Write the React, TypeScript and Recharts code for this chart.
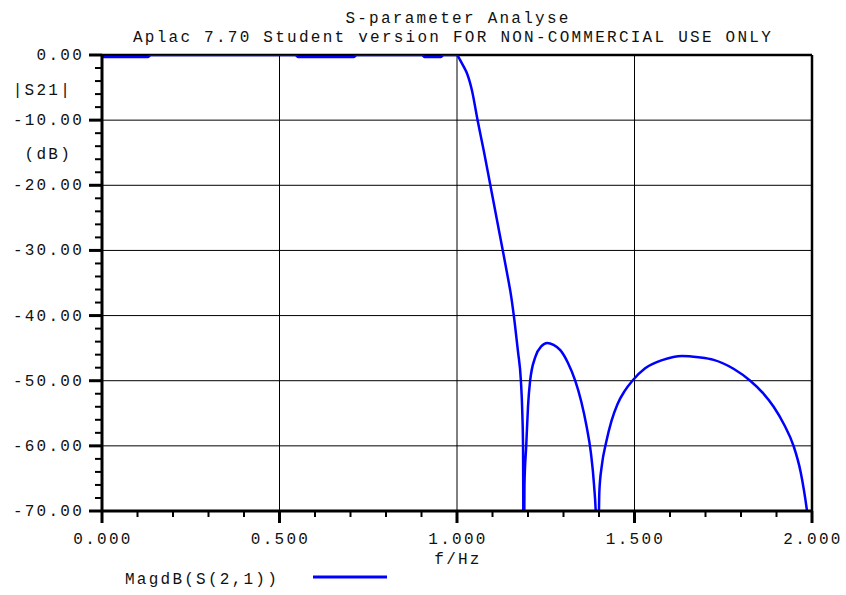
import { LineChart, Line, XAxis, YAxis, CartesianGrid, ReferenceLine } from "recharts";

// frequency points (Hz) and |S21| in dB
const freq = [
  0.0, 0.13, 0.137, 0.545, 0.552, 0.71, 0.717, 0.902, 0.908, 0.955, 0.962, 1.0,
  1.004, 1.012, 1.02, 1.028, 1.042, 1.058, 1.075, 1.094, 1.122, 1.14, 1.153, 1.163,
  1.172, 1.18, 1.184, 1.186, 1.188, 1.19, 1.195, 1.2, 1.206, 1.221, 1.238, 1.254,
  1.272, 1.291, 1.312, 1.333, 1.35, 1.365, 1.377, 1.386, 1.392, 1.396, 1.401, 1.408,
  1.42, 1.435, 1.452, 1.472, 1.494, 1.53, 1.58, 1.634, 1.68, 1.723, 1.78, 1.826,
  1.862, 1.892, 1.922, 1.948, 1.968, 1.986, 1.995,
];
const magdB = [
  -0.3, -0.3, 0, 0, -0.3, -0.3, 0, 0, -0.3, -0.3, 0, 0,
  -0.3, -1.1, -1.9, -2.8, -5.4, -10, -14.6, -20, -28, -33.2, -37.2, -41.3,
  -45.6, -50, -55, -60, -85, -66, -60, -54, -50, -46.3, -44.7, -44.2,
  -44.5, -45.3, -47.2, -50, -53.2, -57, -61, -66, -72, -85, -67, -63,
  -59.5, -56.2, -53.6, -51.6, -50, -48.1, -46.8, -46.2, -46.4, -46.8, -48.2, -50,
  -51.9, -54, -56.8, -60, -64, -70, -74,
];

const xTicks = [
  0, 0.1, 0.2, 0.3, 0.4, 0.5, 0.6, 0.7, 0.8, 0.9, 1.0,
  1.1, 1.2, 1.3, 1.4, 1.5, 1.6, 1.7, 1.8, 1.9, 2.0,
];
const yTicks = [
  0, -2, -4, -6, -8, -10, -12, -14, -16, -18, -20, -22, -24, -26, -28, -30,
  -32, -34, -36, -38, -40, -42, -44, -46, -48, -50, -52, -54, -56, -58, -60,
  -62, -64, -66, -68, -70,
];
const xGrid = [0.5, 1.0, 1.5];
const yGrid = [-10, -20, -30, -40, -50, -60];

const title = "S-parameter Analyse";
const subtitle = "Aplac 7.70 Student version FOR NON-COMMERCIAL USE ONLY";
const xLabel = "f/Hz";
const yLabel1 = "|S21|";
const yLabel2 = "(dB)";
const seriesName = "MagdB(S(2,1))";

const data = freq.map((f, i) => ({ f, db: magdB[i] }));

const FONT = "'Liberation Mono', 'DejaVu Sans Mono', monospace";
const textStyle = { fontFamily: FONT, fontSize: 16, letterSpacing: 2.25, fill: "#111" };

function XTick(props: any) {
  const { x, y, payload } = props;
  const v = payload.value as number;
  const major = Math.abs(v * 2 - Math.round(v * 2)) < 1e-6;
  return (
    <g>
      <line x1={x} x2={x} y1={y} y2={y + (major ? 12 : 6)} stroke="#000" strokeWidth={major ? 3 : 2} />
      {major && (
        <text x={x + 1} y={y + 33} textAnchor="middle" style={textStyle}>
          {v.toFixed(3)}
        </text>
      )}
    </g>
  );
}

function YTick(props: any) {
  const { x, y, payload } = props;
  const v = payload.value as number;
  const major = Math.abs(v % 10) < 1e-6;
  return (
    <g>
      <line x1={x - (major ? 13 : 7)} x2={x} y1={y} y2={y} stroke="#000" strokeWidth={major ? 3 : 2} />
      {major && (
        <text x={x - 18} y={y + 5} textAnchor="end" style={textStyle}>
          {v.toFixed(2)}
        </text>
      )}
    </g>
  );
}

export default function App() {
  return (
    <div style={{ position: "absolute", left: 0, top: 0, width: 846, height: 595, background: "#fff" }}>
      <LineChart width={846} height={595} data={data} margin={{ top: 55, right: 34, bottom: 54, left: 2 }}>
        <CartesianGrid
          stroke="#000"
          strokeWidth={1}
          horizontalValues={yGrid}
          verticalValues={xGrid}
        />
        <XAxis
          dataKey="f"
          type="number"
          domain={[0, 2]}
          ticks={xTicks}
          interval={0}
          height={30}
          tickSize={0}
          tickMargin={0}
          tickLine={false}
          tick={<XTick />}
          axisLine={{ stroke: "#000", strokeWidth: 3 }}
        />
        <YAxis
          type="number"
          domain={[-70, 0]}
          allowDataOverflow
          ticks={yTicks}
          interval={0}
          width={100}
          tickSize={0}
          tickMargin={0}
          tickLine={false}
          tick={<YTick />}
          axisLine={{ stroke: "#000", strokeWidth: 3 }}
        />
        <ReferenceLine y={0} stroke="#000" strokeWidth={2.5} />
        <ReferenceLine x={2} stroke="#000" strokeWidth={2.5} />
        <Line
          dataKey="db"
          type="monotone"
          stroke="#0000ff"
          strokeWidth={2.5}
          dot={false}
          isAnimationActive={false}
        />
      </LineChart>
      <svg width={846} height={595} style={{ position: "absolute", left: 0, top: 0, pointerEvents: "none" }}>
        <text x={458} y={23} textAnchor="middle" style={textStyle}>{title}</text>
        <text x={453} y={42} textAnchor="middle" style={textStyle}>{subtitle}</text>
        <text x={72} y={95} textAnchor="end" style={textStyle}>{yLabel1}</text>
        <text x={72} y={159} textAnchor="end" style={textStyle}>{yLabel2}</text>
        <text x={458} y={564} textAnchor="middle" style={textStyle}>{xLabel}</text>
        <text x={125} y={584} style={textStyle}>{seriesName}</text>
        <line x1={313} x2={387} y1={577} y2={577} stroke="#0000ff" strokeWidth={3} />
      </svg>
    </div>
  );
}
